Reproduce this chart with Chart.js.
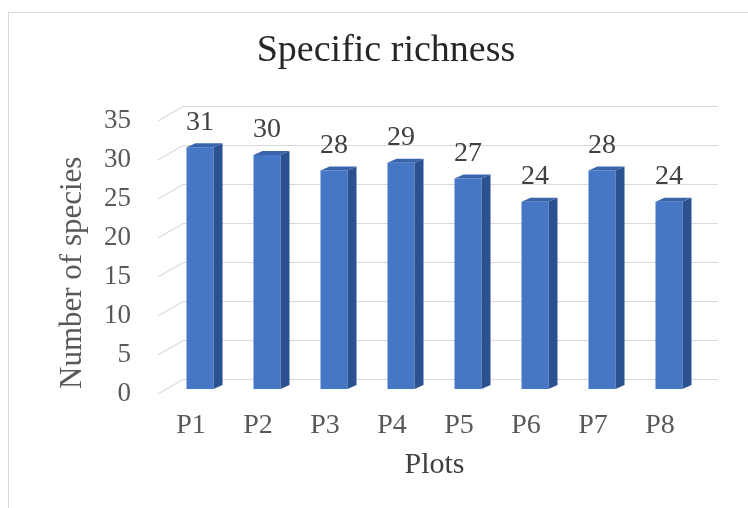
<!DOCTYPE html>
<html>
<head>
<meta charset="utf-8">
<script src="https://cdn.jsdelivr.net/npm/chart.js@4.4.1/dist/chart.umd.min.js"></script>
<style>
  html, body { margin: 0; padding: 0; background: #fff; }
  #wrap { width: 748px; height: 508px; }
</style>
</head>
<body>
<div id="wrap"><canvas id="canvas1" width="748" height="508"></canvas></div>
<script>
// x-axis categories and species counts per plot
const plots = ["P1", "P2", "P3", "P4", "P5", "P6", "P7", "P8"];
const speciesCount = [31, 30, 28, 29, 27, 24, 28, 24];
const yMax = 35;
const yStep = 5;

const SERIF = "'Liberation Serif', 'Times New Roman', serif";
const DEPTH_X = 9, DEPTH_Y = 4;   // extrusion of the columns

// outer frame + back wall gridlines with the little floor diagonals
const wallPlugin = {
  id: "wall",
  beforeDraw(chart) {
    const ctx = chart.ctx;
    ctx.save();
    ctx.fillStyle = "#fff";
    ctx.fillRect(0, 0, chart.width, chart.height);
    ctx.strokeStyle = "#d9d9d9";
    ctx.lineWidth = 1;
    ctx.strokeRect(8.5, 12.5, 760, 520);
    ctx.restore();
  },
  beforeDatasetsDraw(chart) {
    const { ctx, chartArea } = chart;
    const y = chart.scales.y;
    ctx.save();
    ctx.strokeStyle = "#d9d9d9";
    ctx.lineWidth = 1.2;
    for (let v = 0; v <= yMax; v += yStep) {
      const py = y.getPixelForValue(v);
      ctx.beginPath();
      ctx.moveTo(chartArea.left - 8.5, py + 5);
      ctx.lineTo(chartArea.left + 16.5, py - 9.5);
      ctx.lineTo(chartArea.right + 15.5, py - 9.5);
      ctx.stroke();
    }
    ctx.restore();
  },
};

// side + top faces of each column, then the value on top
const columnPlugin = {
  id: "columns",
  afterDatasetsDraw(chart) {
    const ctx = chart.ctx;
    const meta = chart.getDatasetMeta(0);
    ctx.save();
    meta.data.forEach((bar, i) => {
      const half = bar.width / 2;
      const l = bar.x - half, r = bar.x + half;
      const t = bar.y, b = bar.base;
      // right side
      ctx.fillStyle = "#2c5190";
      ctx.beginPath();
      ctx.moveTo(r, t);
      ctx.lineTo(r + DEPTH_X, t - DEPTH_Y);
      ctx.lineTo(r + DEPTH_X, b - DEPTH_Y);
      ctx.lineTo(r, b);
      ctx.closePath();
      ctx.fill();
      // top
      ctx.fillStyle = "#3964ab";
      ctx.beginPath();
      ctx.moveTo(l, t);
      ctx.lineTo(l + DEPTH_X, t - DEPTH_Y);
      ctx.lineTo(r + DEPTH_X, t - DEPTH_Y);
      ctx.lineTo(r, t);
      ctx.closePath();
      ctx.fill();
      // value label
      ctx.fillStyle = "#404040";
      ctx.font = "28px " + SERIF;
      ctx.textAlign = "center";
      ctx.textBaseline = "middle";
      ctx.fillText(String(speciesCount[i]), bar.x, t - 25);
    });
    ctx.restore();
  },
};

window.onload = function () {
  let ctx1 = document.getElementById("canvas1").getContext("2d");
  new Chart(ctx1, {
    type: "bar",
    data: {
      labels: plots,
      datasets: [
        {
          label: "Number of species",
          data: speciesCount,
          backgroundColor: "#4677c7",
          borderWidth: 0,
          categoryPercentage: 1,
          barPercentage: 0.403,
        },
      ],
    },
    options: {
      responsive: false,
      animation: false,
      layout: { padding: { top: 10, left: 69.5, right: 45.5, bottom: 15 } },
      plugins: {
        legend: { display: false },
        tooltip: { enabled: false },
        title: {
          display: true,
          text: "Specific richness",
          color: "#262626",
          font: { family: SERIF, size: 38, weight: "normal" },
          padding: { top: 18.2, bottom: 42.2 },
        },
      },
      scales: {
        x: {
          grid: { display: false, drawTicks: false },
          border: { display: false },
          ticks: {
            color: "#595959",
            font: { family: SERIF, size: 28 },
            padding: 20,
            labelOffset: -9,
            maxRotation: 0,
            autoSkip: false,
          },
          title: {
            display: true,
            text: "Plots",
            color: "#404040",
            font: { family: SERIF, size: 30 },
            padding: { top: 4.4, bottom: 10 },
          },
          afterFit(scale) {
            scale.height = 104;
          },
        },
        y: {
          min: 0,
          max: yMax,
          grid: { display: false, drawTicks: false },
          border: { display: false },
          ticks: {
            stepSize: yStep,
            color: "#595959",
            font: { family: SERIF, size: 27 },
            padding: 35.5,
            labelOffset: 5,
            autoSkip: false,
          },
          title: {
            display: true,
            text: "Number of species",
            align: "start",
            color: "#595959",
            font: { family: SERIF, size: 31 },
            // axis box starts right of the title column, so pull the title back
            padding: { top: -15.5, bottom: 0 },
          },
          afterFit(scale) {
            scale.width = 97;
          },
        },
      },
    },
    plugins: [wallPlugin, columnPlugin],
  });
};
</script>
</body>
</html>
